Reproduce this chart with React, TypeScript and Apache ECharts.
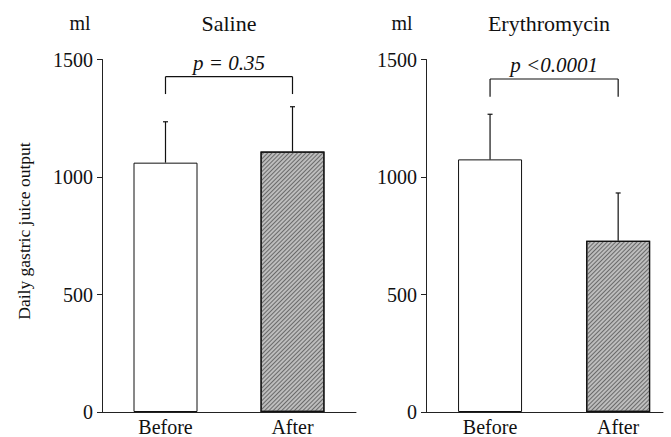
import React, { useEffect, useRef } from "react";
import * as echarts from "echarts";

const categories = ["Before", "After"];
const panelTitles = ["Saline", "Erythromycin"];
const unitLabel = "ml";
const yAxisName = "Daily gastric juice output";

const salineMean = [1061, 1108];
const salineSD = [174, 191];
const erythroMean = [1075, 729];
const erythroSD = [192, 203];

const pLabels = ["p = 0.35", "p <0.0001"];
const bracketLevel = [1427, 1417];
const bracketLegEnd = [1353, 1342];

const yTicks = { min: 0, max: 1500, interval: 500 };

const FONT = '"Liberation Serif", "Times New Roman", serif';

export default function App() {
  const ref = useRef<HTMLDivElement>(null);

  useEffect(() => {
    if (!ref.current) return;
    const chart = echarts.init(ref.current, null, { renderer: "svg" });

    const hatch = {
      symbol: "rect",
      symbolSize: 1,
      dashArrayX: [1, 0],
      dashArrayY: [1, 2],
      rotation: -Math.PI / 4,
      color: "#6a6a6a",
      backgroundColor: "#e8e8e8",
    };

    const barData = (means: number[]) =>
      means.map((v, i) => ({
        value: [i, v],
        itemStyle:
          i === 0
            ? { color: "#ffffff", borderColor: "#111", borderWidth: 1 }
            : { color: "#bdbdbd", borderColor: "#111", borderWidth: 1.2, decal: hatch },
      }));

    const errData = (means: number[], sds: number[]) => means.map((v, i) => [i, v, sds[i]]);

    const LS = { stroke: "#111", lineWidth: 1.2 };

    const errorRender = (params: any, api: any) => {
      const x = api.value(0);
      const m = api.value(1);
      const sd = api.value(2);
      const p0 = api.coord([x, m]);
      const p1 = api.coord([x, m + sd]);
      return {
        type: "group",
        children: [
          { type: "line", shape: { x1: p0[0], y1: p0[1], x2: p1[0], y2: p1[1] }, style: LS },
          { type: "line", shape: { x1: p1[0] - 2.5, y1: p1[1], x2: p1[0] + 2.5, y2: p1[1] }, style: LS },
        ],
      };
    };

    const bracketRender = (label: string) => (params: any, api: any) => {
      const a = api.value(0);
      const b = api.value(1);
      const lvl = api.value(2);
      const leg = api.value(3);
      const pa = api.coord([a, lvl]);
      const pb = api.coord([b, lvl]);
      const qa = api.coord([a, leg]);
      const qb = api.coord([b, leg]);
      return {
        type: "group",
        children: [
          { type: "line", shape: { x1: pa[0], y1: pa[1], x2: pb[0], y2: pb[1] }, style: LS },
          { type: "line", shape: { x1: pa[0], y1: pa[1], x2: qa[0], y2: qa[1] }, style: LS },
          { type: "line", shape: { x1: pb[0], y1: pb[1], x2: qb[0], y2: qb[1] }, style: LS },
          {
            type: "text",
            x: (pa[0] + pb[0]) / 2,
            y: pa[1] - 14,
            style: {
              text: label,
              fontFamily: FONT,
              fontSize: 21,
              fontStyle: "italic",
              fill: "#111",
              align: "center",
              verticalAlign: "middle",
            },
          },
        ],
      };
    };

    const xAxisBase = (max: number) => ({
      type: "value",
      min: -0.5,
      max,
      axisLine: { show: true, onZero: false, lineStyle: { color: "#222", width: 1 } },
      axisTick: { show: false },
      splitLine: { show: false },
      axisLabel: {
        customValues: [0, 1],
        formatter: (v: number) => categories[Math.round(v)] ?? "",
        fontFamily: FONT,
        fontSize: 20,
        color: "#111",
        margin: 5,
      },
    });

    const yAxisBase = () => ({
      type: "value",
      min: yTicks.min,
      max: yTicks.max,
      interval: yTicks.interval,
      axisLine: { show: true, onZero: false, lineStyle: { color: "#222", width: 1 } },
      axisTick: { show: true, length: 5, lineStyle: { color: "#222" } },
      splitLine: { show: false },
      axisLabel: {
        fontFamily: FONT,
        fontSize: 20,
        color: "#111",
        margin: 9,
        formatter: (v: number) => String(v),
      },
    });

    const titleText = (text: string, x: number, size: number) => ({
      type: "text",
      x,
      y: 23,
      style: {
        text,
        fontFamily: FONT,
        fontSize: size,
        fill: "#111",
        align: "center",
        verticalAlign: "middle",
      },
    });

    chart.setOption({
      animation: false,
      backgroundColor: "#ffffff",
      grid: [
        { left: 102, top: 59.5, width: 254, height: 352.5, containLabel: false },
        { left: 426, top: 59.5, width: 237, height: 352.5, containLabel: false },
      ],
      xAxis: [
        { ...xAxisBase(1.5), gridIndex: 0 },
        { ...xAxisBase(1.35), gridIndex: 1 },
      ],
      yAxis: [
        { ...yAxisBase(), gridIndex: 0 },
        { ...yAxisBase(), gridIndex: 1 },
      ],
      graphic: [
        titleText(unitLabel, 80, 20),
        titleText(panelTitles[0], 229, 22),
        titleText(unitLabel, 402, 20),
        titleText(panelTitles[1], 549, 22),
        {
          type: "text",
          x: 24,
          y: 231,
          rotation: Math.PI / 2,
          style: {
            text: yAxisName,
            fontFamily: FONT,
            fontSize: 17.5,
            fill: "#111",
            align: "center",
            verticalAlign: "middle",
          },
        },
      ],
      series: [
        {
          type: "bar",
          xAxisIndex: 0,
          yAxisIndex: 0,
          barWidth: 64,
          data: barData(salineMean),
        },
        {
          type: "bar",
          xAxisIndex: 1,
          yAxisIndex: 1,
          barWidth: 64,
          data: barData(erythroMean),
        },
        {
          type: "custom",
          xAxisIndex: 0,
          yAxisIndex: 0,
          renderItem: errorRender,
          data: errData(salineMean, salineSD),
          z: 3,
        },
        {
          type: "custom",
          xAxisIndex: 1,
          yAxisIndex: 1,
          renderItem: errorRender,
          data: errData(erythroMean, erythroSD),
          z: 3,
        },
        {
          type: "custom",
          xAxisIndex: 0,
          yAxisIndex: 0,
          renderItem: bracketRender(pLabels[0]),
          data: [[0, 1, bracketLevel[0], bracketLegEnd[0]]],
          clip: false,
          z: 3,
        },
        {
          type: "custom",
          xAxisIndex: 1,
          yAxisIndex: 1,
          renderItem: bracketRender(pLabels[1]),
          data: [[0, 1, bracketLevel[1], bracketLegEnd[1]]],
          clip: false,
          z: 3,
        },
      ],
    });

    return () => chart.dispose();
  }, []);

  return (
    <div
      ref={ref}
      style={{ position: "fixed", left: 0, top: 0, width: 671, height: 437, background: "#fff" }}
    />
  );
}
